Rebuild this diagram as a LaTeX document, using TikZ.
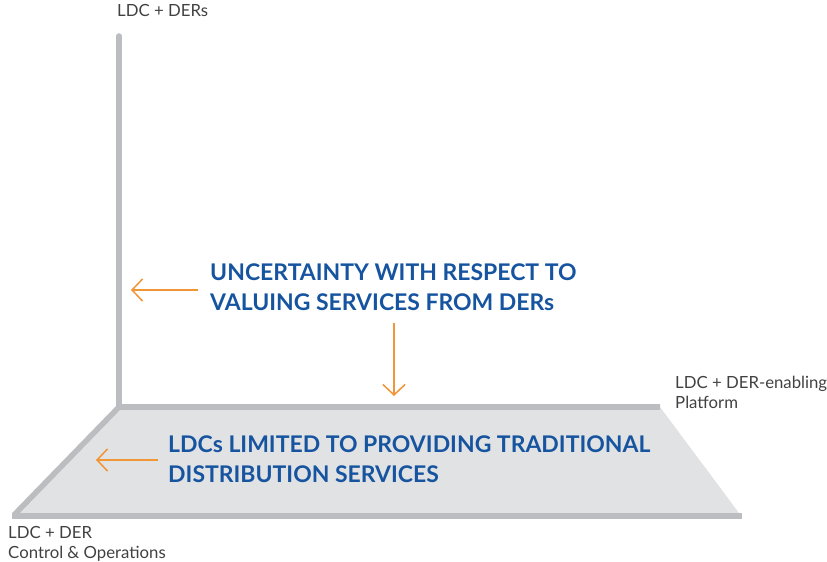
\documentclass[tikz,border=0pt]{standalone}
\usepackage{fontspec}
\setmainfont{Lato}
\usetikzlibrary{arrows.meta}
\definecolor{axisgray}{RGB}{188,189,193}
\definecolor{planegray}{RGB}{225,226,228}
\definecolor{labelgray}{RGB}{65,65,65}
\definecolor{ldcblue}{RGB}{22,84,160}
\definecolor{arroworange}{RGB}{240,150,55}
\tikzset{
	axislabel/.style={anchor=base west, inner sep=0pt, align=left, text=labelgray,
		font=\fontsize{14.3}{17}\selectfont},
	headline/.style={anchor=base west, inner sep=0pt, align=left, text=ldcblue,
		font=\fontsize{19.6}{25}\selectfont\bfseries},
	pointer/.style={draw=arroworange, line width=1.3pt,
		-{Straight Barb[length=9pt, width=19pt, line width=1.3pt]}},
}
\begin{document}
\begin{tikzpicture}[x=0.03cm, y=-0.03cm]
	\useasboundingbox (0,0) rectangle (827,562);

	% plane
	\fill[planegray] (119,407) -- (660,407) -- (742,517) -- (12,517) -- cycle;
	\draw[axisgray, line width=4.7pt] (660,407) -- (119,407) -- (14,515);
	\draw[axisgray, line width=4.5pt] (12,516) -- (742,516);

	% vertical axis
	\draw[axisgray, line width=4.7pt, line cap=round] (119,36) -- (119,407);

	% axis labels (anchored at last baseline)
	\node[axislabel] (top) at (117,17) {LDC + DERs};
	\node[axislabel] (right) at (675,408) {LDC + DER-enabling\\Platform};
	\node[axislabel] (left) at (8,558) {LDC + DER\\Control \& Operations};

	% texts
	\node[headline] (uncert) at (210,310) {UNCERTAINTY WITH RESPECT TO\\VALUING SERVICES FROM DERs};
	\node[headline] (limited) at (168,482) {LDCs LIMITED TO PROVIDING TRADITIONAL\\DISTRIBUTION SERVICES};

	% arrows
	\coordinate (u-w) at (198,290);
	\coordinate (axis-pt) at (131,290);
	\coordinate (u-s) at (394,323);
	\coordinate (plane-pt) at (394,396);
	\coordinate (l-w) at (158,460);
	\coordinate (edge-pt) at (96,460);
	\draw[pointer] (u-w) -- (axis-pt);
	\draw[pointer] (u-s) -- (plane-pt);
	\draw[pointer] (l-w) -- (edge-pt);

\end{tikzpicture}
\end{document}
